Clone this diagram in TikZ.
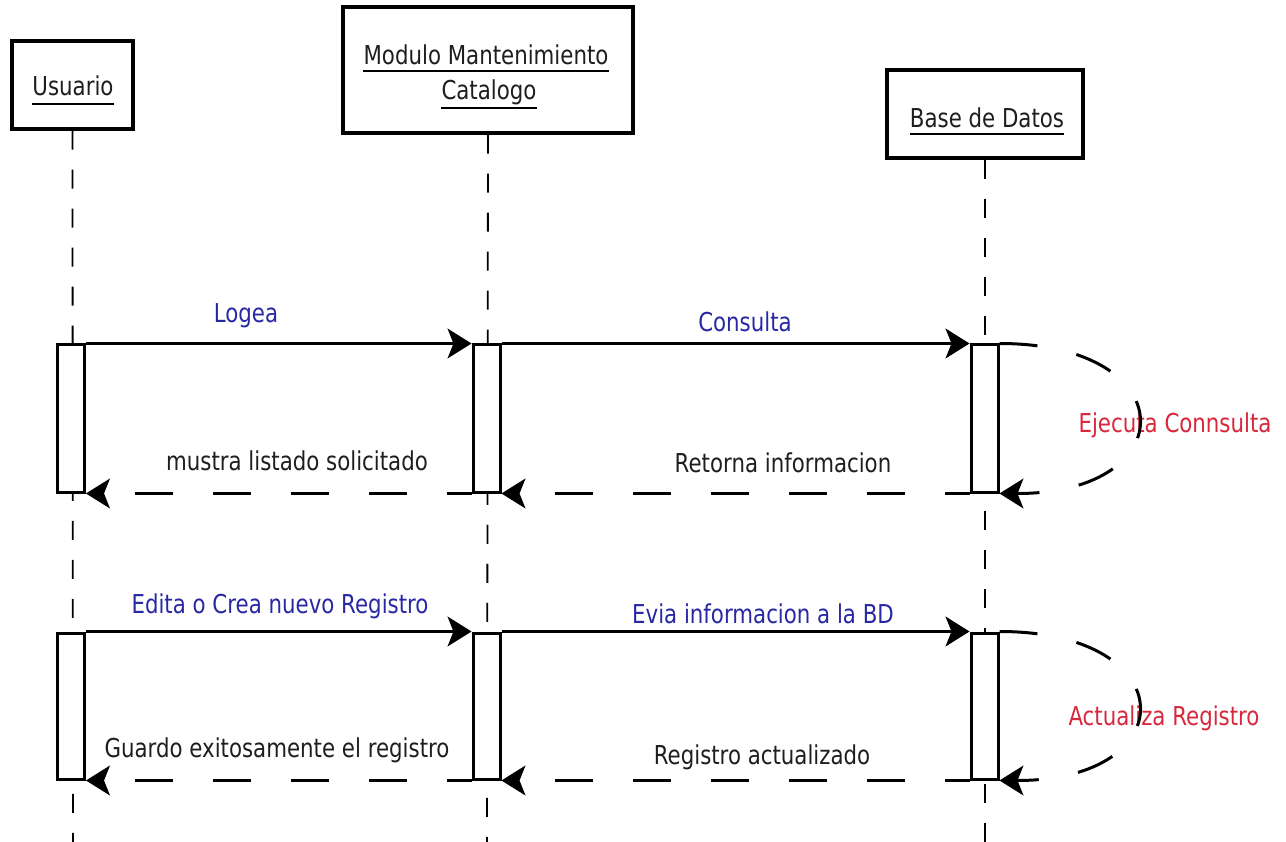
\documentclass[tikz,border=0pt]{standalone}
\usepackage{fontspec}
\setmainfont{DejaVu Sans}[FakeStretch=0.82]
\usetikzlibrary{arrows.meta}
\definecolor{msgblue}{RGB}{40,40,165}
\definecolor{msgred}{RGB}{215,40,60}
\definecolor{msgdark}{RGB}{30,30,30}
\begin{document}
\begin{tikzpicture}[x=1pt,y=-1pt,
  txt/.style={font=\fontsize{26}{31}\selectfont, inner sep=0pt, anchor=base},
  actor/.style={draw, line width=3.5pt, fill=white, inner sep=0pt},
  bar/.style={draw, line width=3pt, fill=white, minimum width=27pt, inner sep=0pt},
  lifeline/.style={line width=1.8pt, dash pattern=on 19pt off 20pt},
  call/.style={line width=3pt, -{Stealth[length=24pt,width=30pt,inset=6pt,fill=black,line width=1pt]}},
  reply/.style={call, dash pattern=on 38pt off 40pt, dash phase=13pt},
  selfcall/.style={call, dash pattern=on 38pt off 40pt},
  ul/.style={line width=2pt}]
\useasboundingbox (0,0) rectangle (1286,842);

% participant boxes
\node[actor, minimum width=121pt, minimum height=88pt] (usr) at (72.5,85) {};
\node[actor, minimum width=290pt, minimum height=126pt] (mmc) at (488,70) {};
\node[actor, minimum width=196pt, minimum height=88pt] (bd) at (985,114) {};

% participant names, underlined
\node[txt, text=msgdark] (usrT) at (73,96) {Usuario};
\draw[ul] ([yshift=-8pt]usrT.base west) -- ([yshift=-8pt]usrT.base east);
\node[txt, text=msgdark] (mmcT1) at (486,65) {Modulo Mantenimiento};
\draw[ul] ([yshift=-6pt]mmcT1.base west) -- ([yshift=-6pt]mmcT1.base east);
\node[txt, text=msgdark] (mmcT2) at (489,100) {Catalogo};
\draw[ul] ([yshift=-8pt]mmcT2.base west) -- ([yshift=-8pt]mmcT2.base east);
\node[txt, text=msgdark] (bdT) at (987,128) {Base de Datos};
\draw[ul] ([yshift=-6pt]bdT.base west) -- ([yshift=-6pt]bdT.base east);

% lifelines
\coordinate (usrEnd) at (73,842);
\coordinate (mmcEnd) at (487,842);
\coordinate (bdEnd) at (985,842);
\draw[lifeline] (usr.south) -- (usrEnd);
\draw[lifeline] (mmc.south) -- (mmcEnd);
\draw[lifeline] (bd.south) -- (bdEnd);

% activation bars
\node[bar, minimum height=147pt] (u1) at (71,418.5) {};
\node[bar, minimum height=147pt] (m1) at (486.5,418.5) {};
\node[bar, minimum height=147pt] (d1) at (984.5,418.5) {};
\node[bar, minimum height=146pt] (u2) at (71,706) {};
\node[bar, minimum height=146pt] (m2) at (486.5,706) {};
\node[bar, minimum height=146pt] (d2) at (984.5,706) {};

% first exchange
\draw[call] (u1.north east) -- (m1.north west);
\node[txt, text=msgblue] (lLogea) at (246,323) {Logea};
\draw[call] (m1.north east) -- (d1.north west);
\node[txt, text=msgblue] (lConsulta) at (745,332) {Consulta};
\draw[reply] (d1.south west) -- (m1.south east);
\node[txt, text=msgdark] (lRetorna) at (783,472) {Retorna informacion};
\draw[reply] (m1.south west) -- (u1.south east);
\node[txt, text=msgdark] (lMuestra) at (297,470) {mustra listado solicitado};
\node[txt, text=msgred] (lEjecuta) at (1175,432) {Ejecuta Connsulta};
\draw[selfcall] (d1.north east) .. controls +(185,0) and +(185,0) .. (d1.south east);

% second exchange
\draw[call] (u2.north east) -- (m2.north west);
\node[txt, text=msgblue] (lEdita) at (280,613) {Edita o Crea nuevo Registro};
\draw[call] (m2.north east) -- (d2.north west);
\node[txt, text=msgblue] (lEnvia) at (763,623) {Evia informacion a la BD};
\draw[reply] (d2.south west) -- (m2.south east);
\node[txt, text=msgdark] (lActualizado) at (762,764) {Registro actualizado};
\draw[reply] (m2.south west) -- (u2.south east);
\node[txt, text=msgdark] (lGuardo) at (277,757) {Guardo exitosamente el registro};
\node[txt, text=msgred] (lActualiza) at (1164,725) {Actualiza Registro};
\draw[selfcall] (d2.north east) .. controls +(185,0) and +(185,0) .. (d2.south east);
\end{tikzpicture}
\end{document}
